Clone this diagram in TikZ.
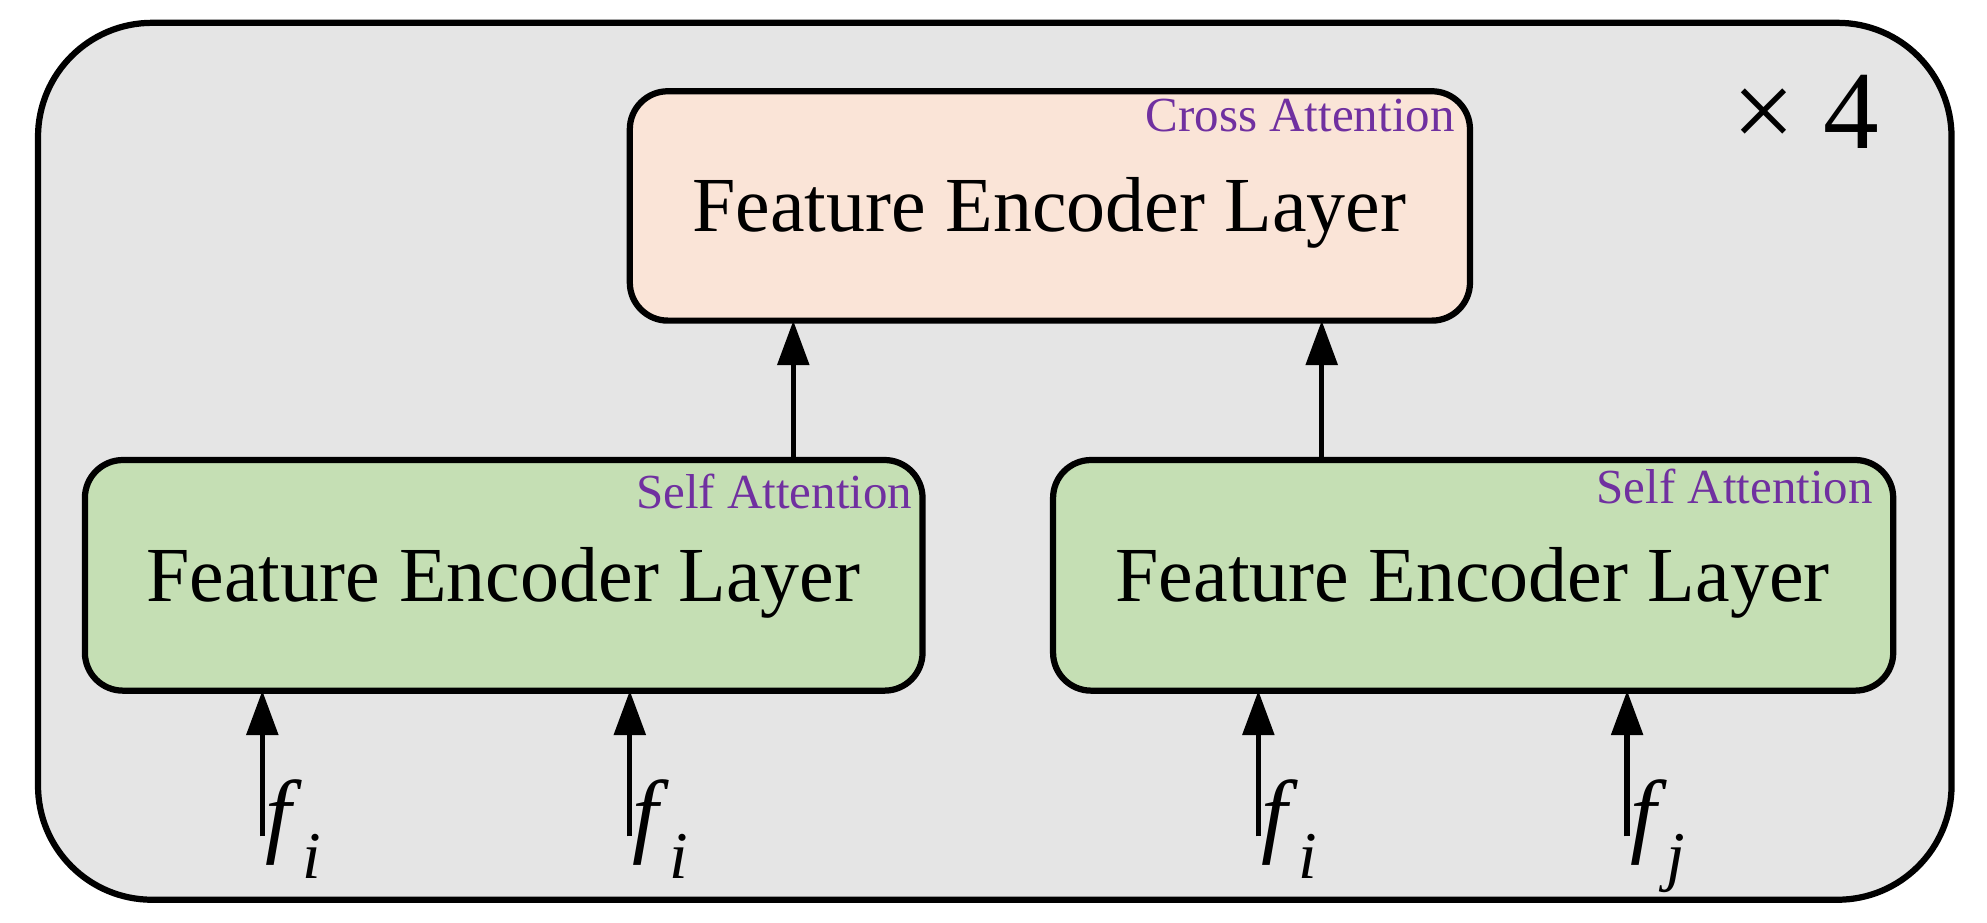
\documentclass[tikz,border=0pt]{standalone}
\usepackage{fontspec}
\setmainfont{Liberation Serif}
\usetikzlibrary{arrows.meta}
\definecolor{bg}{HTML}{E5E5E5}
\definecolor{peach}{HTML}{FAE4D7}
\definecolor{grn}{HTML}{C5DFB4}
\definecolor{purp}{HTML}{7030A0}
\newcommand{\fsub}[1]{\textit{f}\raisebox{-0.35em}{\fontsize{30}{32}\selectfont #1}}
\begin{document}
\begin{tikzpicture}[x=0.02cm,y=-0.02cm,
  box/.style={draw,line width=2.8pt,rounded corners=0.6cm},
  main/.style={font=\fontsize{35}{40}\selectfont},
  att/.style={font=\fontsize{22}{25}\selectfont,text=purp,anchor=north east,inner sep=1pt},
  arr/.style={line width=2.4pt,-{Triangle[length=20pt,width=14pt]}},
  lab/.style={font=\fontsize{42}{46}\selectfont,anchor=north west,inner sep=0pt}]
\useasboundingbox (0,0) rectangle (1568,728);
\draw[fill=bg,line width=2.8pt,rounded corners=1.8cm] (30,18) rectangle (1540,710);
\node[box,fill=peach,minimum width=663*0.02cm,minimum height=181*0.02cm] (top) at (828.5,162.5) {};
\node[box,fill=grn,minimum width=661*0.02cm,minimum height=182*0.02cm] (L) at (397.5,454) {};
\node[box,fill=grn,minimum width=663*0.02cm,minimum height=182*0.02cm] (R) at (1162.5,454) {};
\node[main] (tt) at (828,168) {Feature Encoder Layer};
\node[main] (lt) at (397,460) {Feature Encoder Layer};
\node[main] (rt) at (1162,460) {Feature Encoder Layer};
\node[att] (ta) at (1150,76) {Cross Attention};
\node[att] (la) at (722,372) {Self Attention};
\node[att] (ra) at (1480,368) {Self Attention};
\node[font=\fontsize{50}{54}\selectfont] (x4) at (1425,88) {× 4};
\draw[arr] (626,363) -- (626,253);
\draw[arr] (1043,363) -- (1043,253);
\foreach \n/\x/\s in {a/207/i,b/497/i,c/993/i,d/1284/j}{
  \coordinate (p\n) at (\x,660);
  \draw[arr] (p\n) -- (\x,545);
  \node[lab] (l\n) at (\x+2,615) {\fsub{\textit{\s}}};
}
\end{tikzpicture}
\end{document}
